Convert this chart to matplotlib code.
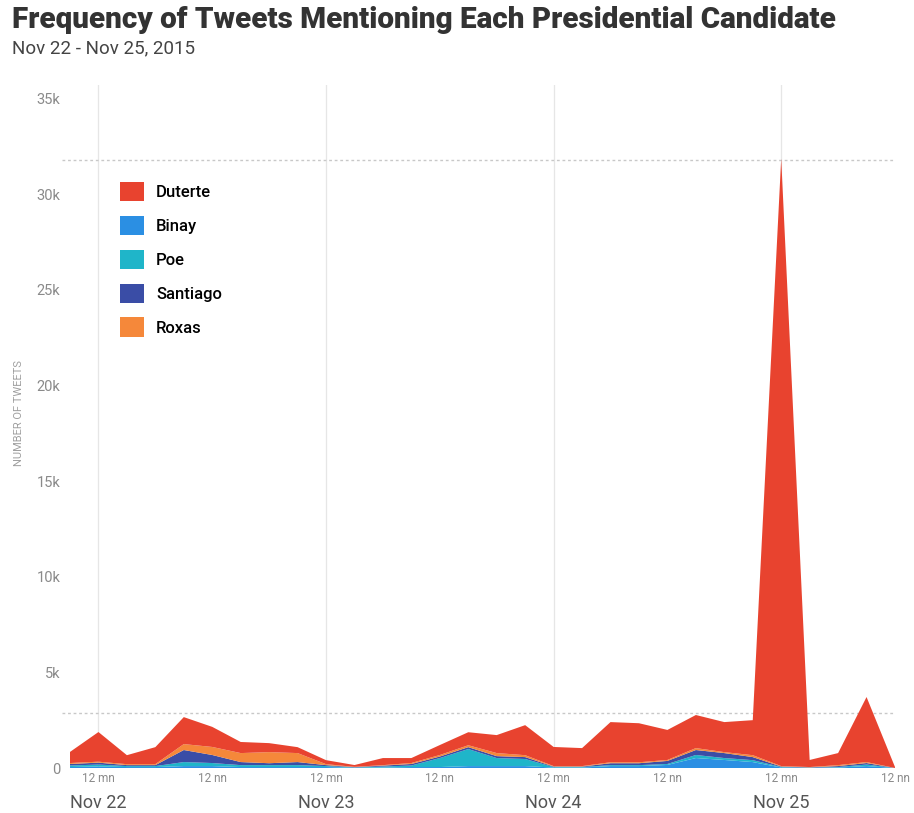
import matplotlib
matplotlib.use("Agg")
import matplotlib.pyplot as plt
from matplotlib.patches import Patch

# Hours relative to Nov 22, 12 midnight (3-hour intervals)
hours = list(range(-3, 85, 3))

binay = [50, 80, 50, 50, 100, 100, 50, 50, 50, 50, 15, 25, 50, 50, 100, 100, 100,
         25, 25, 100, 100, 160, 520, 420, 310, 25, 10, 25, 100, 0]
poe = [80, 100, 50, 50, 210, 160, 100, 100, 100, 50, 15, 50, 80, 470, 890, 420, 370,
       25, 25, 50, 50, 50, 160, 100, 100, 25, 10, 25, 80, 0]
santiago = [80, 100, 50, 50, 630, 420, 160, 100, 160, 50, 15, 50, 80, 80, 100, 100, 100,
            25, 25, 100, 100, 160, 260, 260, 160, 25, 15, 50, 80, 0]
roxas = [50, 50, 50, 50, 310, 420, 470, 580, 470, 50, 15, 25, 50, 80, 100, 160, 100,
         25, 25, 50, 50, 50, 100, 50, 100, 25, 15, 50, 50, 0]
duterte = [580, 1550, 470, 890, 1410, 1050, 580, 470, 310, 210, 95, 370, 260, 520, 680,
           940, 1570, 1000, 940, 2100, 2040, 1570, 1730, 1570, 1830, 31750, 370, 630, 3400, 50]

series_names = ["Binay", "Poe", "Santiago", "Roxas", "Duterte"]
colors = {"Duterte": "#E8432F", "Binay": "#2B8FE3", "Poe": "#1FB5C9",
          "Santiago": "#3A4DA6", "Roxas": "#F5883A"}
legend_order = ["Duterte", "Binay", "Poe", "Santiago", "Roxas"]

yticks = [0, 5000, 10000, 15000, 20000, 25000, 30000, 35000]
ytick_labels = ["0", "5k", "10k", "15k", "20k", "25k", "30k", "35k"]
xticks = [0, 12, 24, 36, 48, 60, 72, 84]
xtick_labels = ["12 mn", "12 nn", "12 mn", "12 nn", "12 mn", "12 nn", "12 mn", "12 nn"]
day_pos = [0, 24, 48, 72]
day_labels = ["Nov 22", "Nov 23", "Nov 24", "Nov 25"]
ref_lines = [31800, 2880]

plt.rcParams['font.family'] = ['Roboto', 'DejaVu Sans']

fig = plt.figure(figsize=(9.14, 8.13), dpi=100)
ax = fig.add_axes([70/914, 1-768/813, 825/914, (768-85)/813])

data = [binay, poe, santiago, roxas, duterte]
ax.stackplot(hours, *data, colors=[colors[n] for n in series_names], linewidth=0)

ax.set_xlim(-3, 84)
ax.set_ylim(0, 35700)

for d in day_pos:
    ax.axvline(d, color="#e6e6e6", lw=0.9, zorder=0)
for r in ref_lines:
    ax.axhline(r, color="#c8c8c8", lw=1.0, ls=(0, (2, 2)), zorder=0.5, xmin=-0.01, clip_on=False)

for s in ax.spines.values():
    s.set_visible(False)

ax.set_yticks(yticks)
ax.set_yticklabels(ytick_labels, color="#8a8a8a", fontsize=10.5)
ax.set_xticks(xticks)
ax.set_xticklabels(xtick_labels, color="#8a8a8a", fontsize=8.5)
ax.tick_params(axis="both", length=0)
ax.tick_params(axis="y", pad=7)
ax.tick_params(axis="x", pad=3)

for p, lab in zip(day_pos, day_labels):
    ax.text(p, -1850, lab, ha="center", va="center", fontsize=13, color="#555555")

ax.set_ylabel("NUMBER OF TWEETS", fontsize=8, color="#a0a0a0")
ax.yaxis.set_label_coords(-46/825, 0.52)

handles = [Patch(facecolor=colors[n], label=n) for n in legend_order]
leg = ax.legend(handles=handles, loc="upper left", bbox_to_anchor=(0.053, 0.868),
                frameon=False, handlelength=1.4, handleheight=1.4,
                handletextpad=0.75, labelspacing=0.88, borderaxespad=0,
                prop={"size": 12, "weight": "medium"})

fig.text(12/914, 1-20/813, "Frequency of Tweets Mentioning Each Presidential Candidate",
         fontsize=21.3, fontweight="heavy", color="#333333", va="center", ha="left")
fig.text(12/914, 1-48/813, "Nov 22 - Nov 25, 2015", fontsize=13.5, color="#444444",
         va="center", ha="left")

fig.savefig("out.png", dpi=100, facecolor="white")
